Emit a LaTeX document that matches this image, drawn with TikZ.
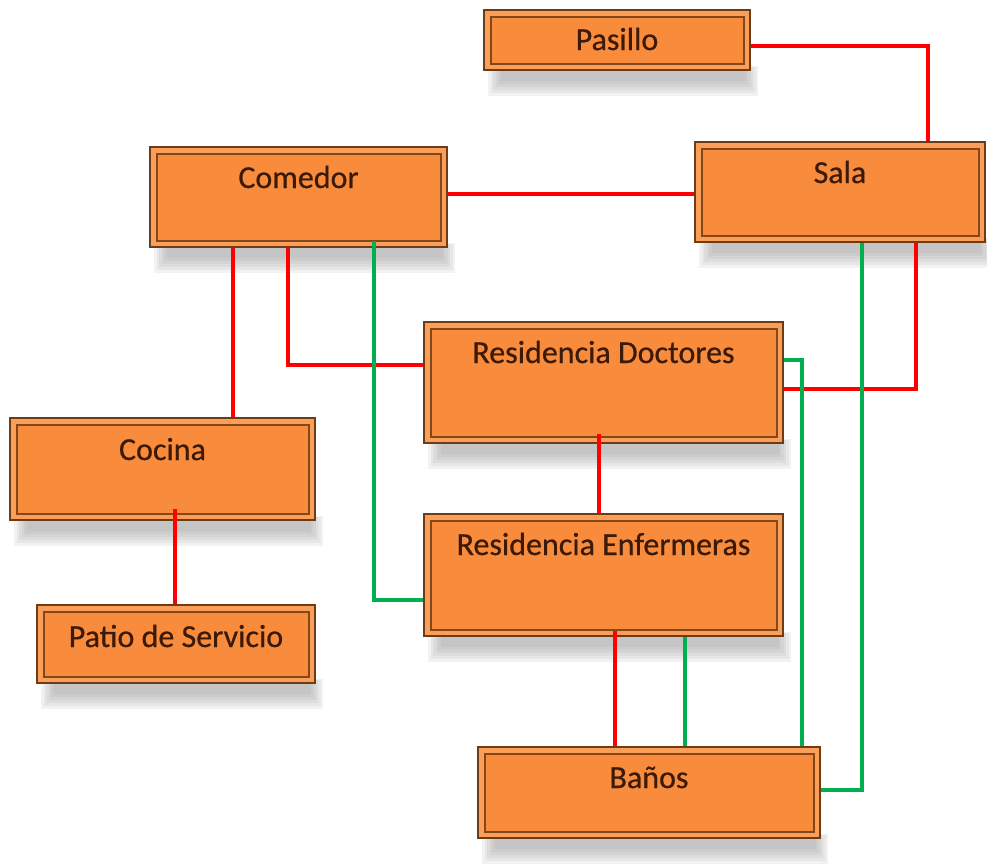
\documentclass[tikz,border=0pt]{standalone}
\usepackage{fontspec}
\setmainfont{Carlito}
\newfontfamily\roomfont{Carlito}[FakeBold=0.6]
\usetikzlibrary{calc}
\definecolor{boxorange}{HTML}{F98B3C}
\definecolor{boxlight}{HTML}{FA9E5A}
\definecolor{boxdark}{HTML}{6E3C14}
\definecolor{txtbrown}{HTML}{3B1A08}
\definecolor{lred}{HTML}{FF0000}
\definecolor{lgreen}{HTML}{00B050}
\tikzset{
  roomframe/.style={draw=boxdark, line width=1.5pt, fill=boxlight, rectangle, inner sep=0pt},
  roominner/.style={draw=boxdark!85!boxorange, line width=1.2pt, fill=boxorange},
  roomtext/.style={text=txtbrown, font=\roomfont\fontsize{24}{28}\selectfont, inner sep=0pt},
  rl/.style={draw=lred, line width=2.4pt},
  gl/.style={draw=lgreen, line width=2.4pt},
}
\newcommand\roombox[7]{%
  \foreach \k in {0,...,5}{
    \fill[black!45, opacity=0.11] (#2+4+\k*2.5, #5-4+\k*0.5) rectangle (#4+8-\k*2.5, #5+26-\k*3);
  }
  \node[roomframe, minimum width={(#4-#2)*0.75pt}, minimum height={(#5-#3)*0.75pt}] (#1) at ({(#2+#4)/2},{(#3+#5)/2}) {};
  \draw[roominner] (#2+7,#3+7) rectangle (#4-6,#5-6);
  \node[roomtext, anchor=base] (#1-t) at ({(#2+#4)/2},#6) {#7};
}
\begin{document}
\begin{tikzpicture}[x=0.75pt, y=-0.75pt]
\useasboundingbox (0,0) rectangle (987,864);
\roombox{pasillo}{484}{10}{750}{70}{50}{Pasillo}
\roombox{sala}{695}{142}{985}{242}{183}{Sala}
\roombox{comedor}{150}{147}{447}{247}{188}{Comedor}
\roombox{rd}{424}{322}{783}{443}{363}{Residencia Doctores}
\roombox{cocina}{10}{418}{315}{520}{460}{Cocina}
\roombox{re}{424}{514}{783}{636}{555}{Residencia Enfermeras}
\roombox{patio}{37}{605}{315}{683}{647}{Patio de Servicio}
\roombox{banos}{478}{747}{820}{838}{788}{Baños}
% red connectors
\draw[rl] (pasillo.east |- 0,46) -| (sala.north -| 928,0);
\draw[rl] (comedor.east |- 0,194) -- (sala.west |- 0,194);
\draw[rl] (comedor.south -| 233,0) -- (cocina.north -| 233,0);
\draw[rl] (comedor.south -| 288,0) |- (rd.west |- 0,365);
\draw[rl] (sala.south -| 916,0) |- (rd.east |- 0,389);
\draw[rl, shorten <=-7.5pt] (rd.south -| 599,0) -- (re.north -| 599,0);
\draw[rl, shorten <=-9pt] (cocina.south -| 175,0) -- (patio.north -| 175,0);
\draw[rl, shorten <=-4.5pt] (re.south -| 615,0) -- (banos.north -| 615,0);
% green connectors
\draw[gl, shorten <=-5pt] (comedor.south -| 374,0) |- (re.west |- 0,600);
\draw[gl] (rd.east |- 0,360) -| (banos.north -| 802,0);
\draw[gl] (re.south -| 685,0) -- (banos.north -| 685,0);
\draw[gl] (sala.south -| 862,0) |- (banos.east |- 0,790);
\end{tikzpicture}
\end{document}
